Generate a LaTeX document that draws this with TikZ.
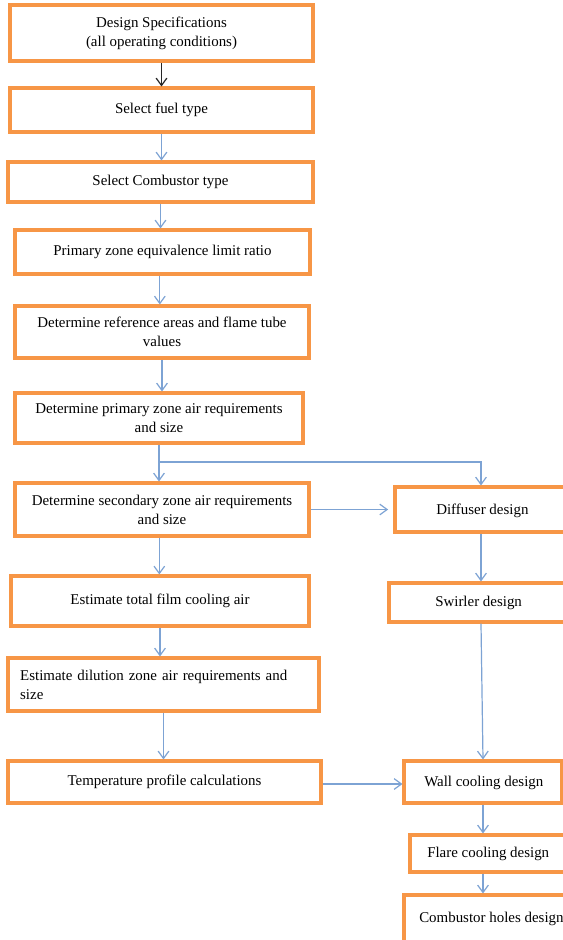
\documentclass[tikz,border=0pt]{standalone}
\usepackage{fontspec}
\setmainfont{Liberation Serif}
\usetikzlibrary{arrows.meta}
\definecolor{boxorange}{RGB}{247,150,70}
\definecolor{arrowblue}{RGB}{125,163,212}
\begin{document}
\begin{tikzpicture}[x=0.75pt,y=-0.75pt,
  box/.style={draw=boxorange, line width=2.3pt, rectangle, inner sep=0pt, align=center,
    font=\fontsize{11.2}{14.4}\selectfont},
  wh/.style 2 args={minimum width=#1*0.75pt, minimum height=#2*0.75pt},
  txt/.style={inner sep=0pt, font=\fontsize{11.2}{14.4}\selectfont},
  flow/.style={draw=arrowblue, line width=0.9pt, -{Straight Barb[length=5.5pt,width=8pt]}},
  ]
\useasboundingbox (0,0) rectangle (563,940);
\clip (0,0) rectangle (563,940);
\fill[white] (0,0) rectangle (563,940);

% left column
\node[box, wh={303}{56}] (b1) at (161.5,33) {Design Specifications\\(all operating conditions)};
\node[box, wh={303}{44}] (b2) at (161.5,110) {Select fuel type};
\node[box, wh={305}{40}] (b3) at (160.5,182) {Select Combustor type};
\node[box, wh={295}{44}] (b4) at (162.5,252) {Primary zone equivalence limit ratio};
\node[box, wh={294}{52}] (b5) at (162,332) {Determine reference areas and flame tube\\values};
\node[box, wh={288}{50}] (b6) at (159,418) {Determine primary zone air requirements\\and size};
\node[box, wh={294}{53}] (b7) at (162,509.5) {Determine secondary zone air requirements\\and size};
\node[box, wh={298}{50}] (b8) at (160,601) {Estimate total film cooling air};
\node[box, wh={311}{53}, align=left, text width=215pt] (b9) at (163.5,684.5) {Estimate dilution zone air requirements and\\size};
\node[box, wh={313}{42}] (b10) at (164.5,782) {Temperature profile calculations};

% right column
\node[box, wh={225}{45}] (dif) at (507.5,509.5) {};
\node[txt, anchor=west] (difT) at (436,511) {Diffuser design};
\node[box, wh={231}{39}] (swi) at (504.5,602.5) {};
\node[txt, anchor=west] (swiT) at (435,603) {Swirler design};
\node[box, wh={158}{42}] (wal) at (483,782) {};
\node[txt, anchor=west] (walT) at (424,783) {Wall cooling design};
\node[box, wh={210}{37}] (fla) at (515,853.5) {};
\node[txt, anchor=west] (flaT) at (427,854) {Flare cooling design};
\node[box, wh={216}{85}] (hol) at (512,937.5) {};
\node[txt, anchor=west] (holT) at (419,919) {Combustor holes design};

\coordinate (br) at (b6.south |- 0,462);
\coordinate (rx) at (481,462);

% connectors
\draw[flow, draw=black!85] (b1.south) -- (b1.south |- b2.north);
\draw[flow] (b2.south) -- (b2.south |- b3.north);
\draw[flow] (b3.south) -- (b3.south |- b4.north);
\draw[flow] ([xshift=-2pt]b4.south) -- ([xshift=-2pt]b4.south |- b5.north);
\draw[flow] (b5.south) -- (b5.south |- b6.north);
\draw[flow] (b6.south) -- (b6.south |- b7.north);
\draw[flow] (br) -- (rx) -- (rx |- dif.north);
\draw[flow, shorten >=4pt] (b7.east) -- (b7.east -| dif.west);
\draw[flow] ([xshift=-2pt]b7.south) -- ([xshift=-2pt]b7.south |- b8.north);
\draw[flow] (b8.south) -- (b8.south |- b9.north);
\draw[flow] (b9.south) -- (b9.south |- b10.north);
\draw[flow] (rx |- dif.south) -- (rx |- swi.north);
\draw[flow] (rx |- swi.south) -- (wal.north);
\draw[flow] ([yshift=-1.5pt]b10.east) -- ([yshift=-1.5pt]b10.east -| wal.west);
\draw[flow] (wal.south) -- (wal.south |- fla.north);
\draw[flow] (wal.south |- fla.south) -- (wal.south |- hol.north);
\end{tikzpicture}
\end{document}
